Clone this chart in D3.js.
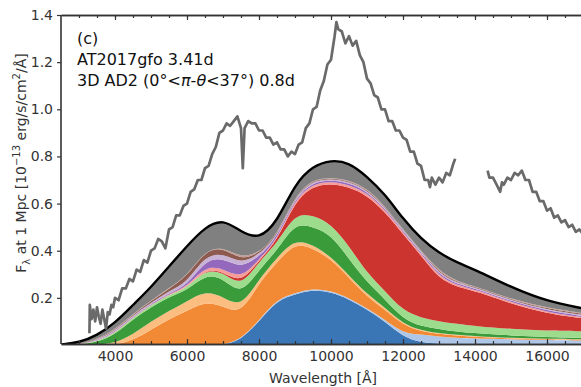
<!DOCTYPE html>
<html>
<head>
<meta charset="utf-8">
<script src="https://cdn.jsdelivr.net/npm/d3@7"></script>
<style>
  body { margin: 0; background: #fff; }
  svg { font-family: "DejaVu Sans", Verdana, sans-serif; }
</style>
</head>
<body>
<div id="chart"></div>
<script>
// model wavelength grid (Angstrom)
const wave = [2500,3000,3500,4000,4500,5000,5500,6000,6500,7000,7500,8000,8500,9000,9500,10000,10500,11000,11500,12000,12500,13000,13500,14000,15000,16000,17000];

// stacked model contributions (bottom to top)
const blue    = [0,0,0,0,0,0,0,0,0,0,0.020,0.100,0.190,0.215,0.235,0.225,0.195,0.150,0.100,0.035,0.010,0.006,0.004,0.003,0.002,0.002,0.002];
const lblue   = [0,0,0,0,0,0,0,0,0,0,0.003,0.005,0.005,0.005,0.005,0.005,0.005,0.006,0.008,0.015,0.035,0.030,0.026,0.025,0.022,0.019,0.017];
const orange  = [0,0,0,0,0.020,0.065,0.110,0.145,0.185,0.165,0.107,0.160,0.155,0.215,0.170,0.135,0.085,0.049,0.042,0.035,0.013,0.011,0.010,0.007,0.003,0.003,0.003];
const lorange = [0,0,0.001,0.008,0.025,0.035,0.035,0.040,0.045,0.040,0.027,0.015,0.020,0.015,0.015,0.010,0.010,0.010,0.010,0.005,0.004,0.003,0.003,0.003,0.003,0.002,0.002];
const green   = [0,0.002,0.011,0.037,0.065,0.060,0.060,0.045,0.070,0.080,0.053,0.040,0.030,0.070,0.075,0.095,0.070,0.050,0.035,0.020,0.018,0.018,0.013,0.012,0.010,0.008,0.006];
const lgreen  = [0,0.001,0.004,0.005,0.008,0.008,0.010,0.010,0.020,0.025,0.035,0.035,0.030,0.040,0.050,0.045,0.055,0.040,0.035,0.035,0.036,0.032,0.034,0.030,0.028,0.026,0.028];
const red     = [0,0,0,0,0,0,0,0,0.002,0.003,0.015,0.005,0.010,0.050,0.125,0.170,0.250,0.330,0.335,0.325,0.264,0.180,0.157,0.150,0.107,0.073,0.055];
const lred    = [0,0,0.001,0.002,0.002,0.002,0.003,0.005,0.013,0.012,0.020,0.005,0.005,0.010,0.010,0.010,0.010,0.010,0.010,0.007,0.008,0.010,0.007,0.006,0.006,0.006,0.005];
const purple  = [0,0.001,0.002,0.003,0.003,0.003,0.004,0.005,0.025,0.045,0.045,0.010,0.010,0.005,0.007,0.005,0.008,0.007,0.005,0.005,0.005,0.007,0.005,0.005,0.005,0.006,0.005];
const lpurple = [0,0,0.002,0.005,0.004,0.005,0.008,0.015,0.020,0.020,0.020,0.009,0.005,0.005,0.006,0.005,0.005,0.006,0.005,0.004,0.004,0.006,0.005,0.004,0.004,0.005,0.005];
const brown   = [0,0.001,0.002,0.004,0.004,0.007,0.010,0.025,0.020,0.025,0.015,0.004,0.005,0.002,0.004,0.003,0.004,0.004,0.003,0.002,0.002,0.005,0.003,0.003,0.003,0.004,0.004];
const lbrown  = [0,0,0.001,0.002,0.002,0.002,0.003,0.002,0.002,0.002,0.010,0.002,0.002,0.002,0.003,0.002,0.003,0.003,0.002,0.002,0.001,0.007,0.003,0.002,0.002,0.003,0.003];
const gray    = [0.002,0.005,0.016,0.027,0.037,0.058,0.090,0.128,0.098,0.118,0.110,0.058,0.053,0.051,0.055,0.075,0.075,0.050,0.050,0.045,0.050,0.075,0.080,0.070,0.050,0.028,0.020];

// observed AT2017gfo spectrum (null = gap)
const obsWave = [3290,3300,3350,3400,3450,3500,3550,3600,3650,3700,3750,3800,3850,3900,3950,4000,4100,4200,4300,4400,4500,4600,4700,4800,4900,5000,5100,5200,5300,5400,5500,5600,5700,5800,5900,6000,6100,6200,6300,6400,6500,6600,6700,6800,6900,7000,7100,7200,7300,7400,7500,7550,7600,7700,7800,7900,8000,8100,8200,8300,8400,8500,8600,8700,8800,8900,9000,9100,9200,9300,9400,9500,9600,9700,9800,9900,10000,10100,10150,10200,10300,10400,10500,10600,10700,10800,10900,11000,11100,11200,11300,11400,11500,11600,11700,11800,11900,12000,12100,12200,12300,12400,12500,12600,12700,12750,12800,12900,13000,13100,13200,13300,13400,13450,13900,14350,14400,14500,14600,14700,14750,14800,14900,15000,15100,15200,15300,15400,15500,15600,15700,15800,15900,16000,16100,16200,16300,16400,16500,16600,16700,16800,16900,17000];
const obsFlux = [0.05,0.17,0.11,0.15,0.10,0.16,0.12,0.09,0.15,0.11,0.07,0.14,0.13,0.17,0.16,0.20,0.19,0.24,0.24,0.28,0.27,0.32,0.31,0.36,0.35,0.40,0.41,0.45,0.44,0.41,0.49,0.50,0.55,0.55,0.59,0.60,0.65,0.66,0.70,0.70,0.75,0.76,0.81,0.84,0.90,0.91,0.94,0.93,0.95,0.97,0.92,0.75,0.92,0.95,0.94,0.94,0.91,0.91,0.88,0.88,0.85,0.86,0.83,0.83,0.80,0.82,0.81,0.85,0.86,0.92,0.94,1.00,1.01,1.08,1.12,1.19,1.21,1.31,1.37,1.34,1.33,1.28,1.31,1.27,1.29,1.23,1.20,1.13,1.11,1.06,1.05,1.00,1.00,0.95,0.95,0.91,0.91,0.88,0.87,0.82,0.82,0.77,0.76,0.70,0.70,0.67,0.71,0.68,0.71,0.69,0.73,0.72,0.77,0.79,null,0.74,0.71,0.71,0.68,0.65,0.69,0.68,0.71,0.70,0.73,0.72,0.74,0.70,0.70,0.65,0.65,0.61,0.61,0.57,0.58,0.54,0.55,0.52,0.53,0.50,0.51,0.48,0.49,0.47];

const xTicks = [4000,6000,8000,10000,12000,14000,16000];
const yTicks = [0.2,0.4,0.6,0.8,1.0,1.2,1.4];

const layerKeys = ["blue","lblue","orange","lorange","green","lgreen","red","lred","purple","lpurple","brown","lbrown","gray"];
const layerData = {blue, lblue, orange, lorange, green, lgreen, red, lred, purple, lpurple, brown, lbrown, gray};
const colors = {
  blue: "#3a76b5", lblue: "#aec7e8", orange: "#f28a35", lorange: "#fbbd80",
  green: "#3a9b3a", lgreen: "#9ddc8c", red: "#cc3430", lred: "#f79c98",
  purple: "#9468bd", lpurple: "#c8b3d6", brown: "#8c5a4e", lbrown: "#c49c94", gray: "#808080"
};

const width = 581, height = 387;
const margin = {top: 15, left: 61, bottom: 344};

const x = d3.scaleLinear().domain([2500, 17000]).range([margin.left, 583]);
const y = d3.scaleLinear().domain([0, 1.4]).range([345, 15]);

const svg = d3.select("#chart").append("svg")
  .attr("width", width).attr("height", height);

svg.append("defs").append("clipPath").attr("id", "plot")
  .append("rect").attr("x", margin.left).attr("y", margin.top)
  .attr("width", width - margin.left).attr("height", margin.bottom - margin.top);

// table for the stack
const rows = wave.map((w, i) => {
  const r = {wave: w};
  layerKeys.forEach(k => r[k] = layerData[k][i]);
  return r;
});
const series = d3.stack().keys(layerKeys)(rows);

const area = d3.area()
  .x(d => x(d.data.wave))
  .y0(d => y(d[0]))
  .y1(d => y(d[1]))
  .curve(d3.curveBasis);

const plot = svg.append("g").attr("clip-path", "url(#plot)");

plot.append("g").selectAll("path")
  .data(series)
  .join("path")
  .attr("fill", d => colors[d.key])
  .attr("d", area);

// total model line
const totalSeries = series[series.length - 1];
plot.append("path")
  .datum(totalSeries)
  .attr("fill", "none")
  .attr("stroke", "#000")
  .attr("stroke-width", 2.4)
  .attr("d", d3.line().x(d => x(d.data.wave)).y(d => y(d[1])).curve(d3.curveBasis));

// observed spectrum
const obs = obsWave.map((w, i) => ({w, f: obsFlux[i]}));
plot.append("path")
  .datum(obs)
  .attr("fill", "none")
  .attr("stroke", "#6a6a6a")
  .attr("stroke-width", 2.7)
  .attr("stroke-linejoin", "round")
  .attr("d", d3.line().defined(d => d.f !== null).x(d => x(d.w)).y(d => y(d.f)));

// axes
const minor = d3.range(3000, 17001, 500);

svg.append("g")
  .attr("transform", `translate(0,${margin.bottom})`)
  .call(d3.axisBottom(x).tickValues(xTicks).tickFormat(d3.format("d")).tickSize(-5).tickSizeOuter(0).tickPadding(7));
svg.append("g")
  .attr("transform", `translate(0,${margin.bottom})`)
  .call(d3.axisBottom(x).tickValues(minor).tickFormat("").tickSize(-3).tickSizeOuter(0));

svg.append("g")
  .attr("transform", `translate(0,${margin.top})`)
  .call(d3.axisTop(x).tickValues(xTicks).tickFormat("").tickSize(-5).tickSizeOuter(0));
svg.append("g")
  .attr("transform", `translate(0,${margin.top})`)
  .call(d3.axisTop(x).tickValues(minor).tickFormat("").tickSize(-3).tickSizeOuter(0));

const yAxis = svg.append("g")
  .attr("transform", `translate(${margin.left},0)`)
  .call(d3.axisLeft(y).tickValues(yTicks).tickFormat(d3.format(".1f")).tickSize(4).tickSizeOuter(0).tickPadding(4));
yAxis.select(".domain").attr("d", `M0,${margin.top}V${margin.bottom}`);

svg.selectAll(".domain").attr("stroke", "#333").attr("stroke-width", 1.6);
svg.selectAll(".tick line").attr("stroke", "#333").attr("stroke-width", 1.2);
svg.selectAll(".tick text").attr("font-size", 14).attr("fill", "#333")
  .attr("font-family", "DejaVu Sans, sans-serif");

// annotations
const note = svg.append("g").attr("font-size", 16).attr("fill", "#111");
note.append("text").attr("x", 77).attr("y", 44).text("(c)");
note.append("text").attr("x", 77).attr("y", 65).text("AT2017gfo 3.41d");
const t3 = note.append("text").attr("x", 77).attr("y", 86);
t3.append("tspan").text("3D AD2 (0°<");
t3.append("tspan").attr("font-style", "italic").text("π");
t3.append("tspan").text("-");
t3.append("tspan").attr("font-style", "italic").text("θ");
t3.append("tspan").text("<37°) 0.8d");

// axis labels
svg.append("text")
  .attr("x", 323).attr("y", 383)
  .attr("text-anchor", "middle").attr("font-size", 14).attr("fill", "#333")
  .text("Wavelength [Å]");

const yl = svg.append("text")
  .attr("transform", "translate(26,163) rotate(-90)")
  .attr("text-anchor", "middle").attr("font-size", 14).attr("fill", "#333");
yl.append("tspan").text("F");
yl.append("tspan").attr("font-size", 10).attr("dy", 4).text("λ");
yl.append("tspan").attr("dy", -4).text(" at 1 Mpc [10");
yl.append("tspan").attr("font-size", 10).attr("dy", -6).text("−13");
yl.append("tspan").attr("dy", 6).text(" erg/s/cm");
yl.append("tspan").attr("font-size", 10).attr("dy", -6).text("2");
yl.append("tspan").attr("dy", 6).text("/Å]");
</script>
</body>
</html>
